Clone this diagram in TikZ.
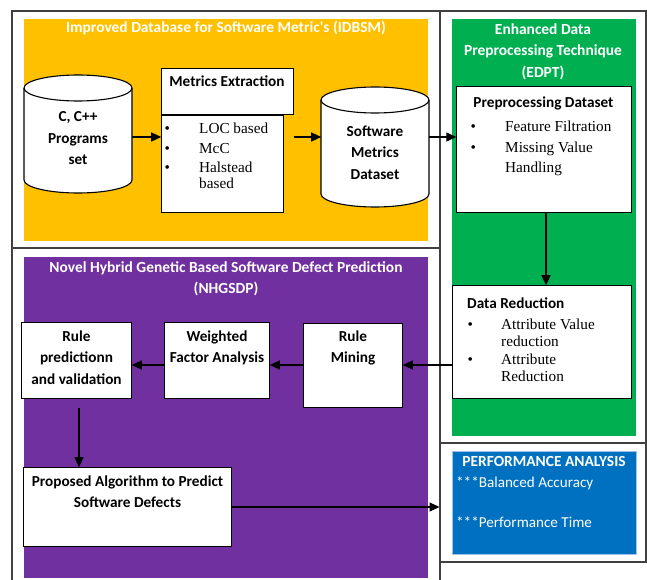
\documentclass[tikz,border=0pt]{standalone}
\usepackage{fontspec}
\setmainfont{Liberation Serif}
\newfontfamily\calfont{Carlito}
\usetikzlibrary{arrows.meta}

\definecolor{panelyellow}{HTML}{FFC000}
\definecolor{panelgreen}{HTML}{00B050}
\definecolor{panelpurple}{HTML}{7030A0}
\definecolor{panelblue}{HTML}{0070C0}
\definecolor{blueedge}{HTML}{9DC3E6}
\definecolor{framegray}{HTML}{404040}

% bullet item helpers for the lists inside the boxes
\newcommand\listdot[2]{\makebox[#1][l]{\textbullet}#2}
\newcommand\listcont[2]{\hspace*{#1}#2}

\begin{document}
\begin{tikzpicture}[x=1bp,y=1bp,
  frame/.style={draw=framegray, line width=1.5bp},
  box/.style={draw=black, fill=white, line width=1.1bp, inner sep=0, outer sep=0},
  ghost/.style={inner sep=0, outer sep=0},
  arr/.style={line width=1.1bp, -{Triangle[length=10bp,width=9bp]}},
  ttl/.style={font=\calfont\bfseries\fontsize{15.5}{21.5}\selectfont, text=white, inner sep=0, align=center},
  lbl/.style={font=\calfont\bfseries\fontsize{15.3}{21.5}\selectfont, inner sep=0, align=center},
  lst/.style={font=\fontsize{15.3}{16.5}\selectfont, inner sep=0, align=left, anchor=north west},
  perf/.style={font=\calfont\fontsize{15.2}{17}\selectfont, text=white, inner sep=0, anchor=base west},
]
\useasboundingbox (0,0) rectangle (647,-580);

% coloured panels
\fill[panelyellow] (24,-19) rectangle (428,-241);
\fill[panelgreen]  (452,-19) rectangle (636,-436);
\fill[panelpurple] (24,-257) rectangle (428,-578);
\filldraw[fill=panelblue, draw=blueedge, line width=0.8bp] (452,-451) rectangle (636,-554);

% frame lines
\draw[frame] (12,-580) -- (12,-11) -- (646,-11) -- (646,-562);
\draw[frame] (12,-248) -- (440,-248);
\draw[frame] (440,-11) -- (440,-580);
\draw[frame] (440,-443) -- (647,-443);
\draw[frame] (440,-562) -- (647,-562);

% panel titles
\node[ttl, anchor=base] (t1) at (226,-33) {Improved Database for Software Metric's (IDBSM)};
\node[ttl, anchor=north] (t2) at (543,-23.5) {Enhanced Data\\Preprocessing Technique\\(EDPT)};
\node[ttl, anchor=north] (t3) at (226,-261.5) {Novel Hybrid Genetic Based Software Defect Prediction\\(NHGSDP)};

% source programs cylinder
\node[ghost, minimum width=108, minimum height=118] (src) at (78,-134) {};
\filldraw[fill=white, draw=black, line width=1.1bp]
  (24,-88) -- (24,-180) arc[start angle=180, end angle=360, x radius=54, y radius=13]
  -- (132,-88) arc[start angle=0, end angle=180, x radius=54, y radius=13] -- cycle;
\draw[line width=1.1bp] (24,-88) arc[start angle=180, end angle=360, x radius=54, y radius=13];
\node[lbl, anchor=north] (srctext) at (78,-111.5) {C, C++\\Programs\\set};

% software metrics dataset cylinder
\node[ghost, minimum width=108, minimum height=120] (smd) at (375,-147) {};
\filldraw[fill=white, draw=black, line width=1.1bp]
  (321,-100) -- (321,-194) arc[start angle=180, end angle=360, x radius=54, y radius=13]
  -- (429,-100) arc[start angle=0, end angle=180, x radius=54, y radius=13] -- cycle;
\draw[line width=1.1bp] (321,-100) arc[start angle=180, end angle=360, x radius=54, y radius=13];
\node[lbl, anchor=north] (smdtext) at (375,-125.5) {Software\\Metrics\\Dataset};

% metrics extraction
\node[box, minimum width=123, minimum height=98] (mbody) at (222.5,-164) {};
\node[box, minimum width=133, minimum height=47] (mhead) at (227.5,-91.5) {};
\node[lbl, anchor=base] (mheadtext) at (227,-87) {Metrics Extraction};
\node[lst] (mlist) at (164.5,-122.8) {\listdot{34.5bp}{LOC based}\\[3bp]
  \listdot{34.5bp}{McC}\\[3bp]
  \listdot{34.5bp}{Halstead}\\
  \listcont{34.5bp}{based}};

% preprocessing dataset
\node[box, minimum width=176, minimum height=127] (pd) at (544,-149.5) {};
\node[lbl, anchor=base] (pdtext) at (543.5,-108) {Preprocessing Dataset};
\node[lst, font=\fontsize{15.3}{20}\selectfont] (pdlist) at (470.5,-120.8) {\listdot{34.5bp}{Feature Filtration}\\[1bp]
  \listdot{34.5bp}{Missing Value}\\
  \listcont{34.5bp}{Handling}};

% data reduction
\node[box, minimum width=180, minimum height=114] (dr) at (542,-342) {};
\node[lbl, anchor=base west] (drtext) at (467,-308) {Data Reduction};
\node[lst] (drlist) at (467.5,-318.8) {\listdot{33.5bp}{Attribute Value}\\
  \listcont{33.5bp}{reduction}\\[2.5bp]
  \listdot{33.5bp}{Attribute}\\
  \listcont{33.5bp}{Reduction}};

% hybrid genetic stages
\node[box, minimum width=100, minimum height=85] (rm) at (353,-365.5) {};
\node[lbl, anchor=north] (rmtext) at (353,-330.5) {Rule\\Mining};
\node[box, minimum width=106, minimum height=77] (wf) at (217,-360.5) {};
\node[lbl, anchor=north] (wftext) at (217,-330.5) {Weighted\\Factor Analysis};
\node[box, minimum width=111, minimum height=77] (rp) at (76.5,-360.5) {};
\node[lbl, anchor=north] (rptext) at (76.5,-330.5) {Rule\\predictionn\\and validation};
\node[box, minimum width=209, minimum height=80] (pa) at (127.5,-507) {};
\node[lbl, anchor=north] (patext) at (127.5,-475.5) {Proposed Algorithm to Predict\\Software Defects};

% performance analysis
\node[ttl, anchor=base] (perftitle) at (544,-466) {PERFORMANCE ANALYSIS};
\node[perf] (perf1) at (456,-487) {***Balanced Accuracy};
\node[perf] (perf2) at (456,-527) {***Performance Time};

% connectors
\coordinate (r1) at (0,-137);
\coordinate (r3) at (0,-365);
\coordinate (perfin) at (439.5,-507);
\draw[arr] (src.east |- r1) -- (mbody.west |- r1);
\draw[arr] (mhead.east |- r1) -- (smd.west |- r1);
\draw[arr] (smd.east |- r1) -- (pd.west |- r1);
\draw[arr] ([xshift=2bp]pd.south) -- ([xshift=2bp]pd.south |- dr.north);
\draw[arr] (dr.west |- r3) -- (rm.east |- r3);
\draw[arr] (rm.west |- r3) -- (wf.east |- r3);
\draw[arr] (wf.west |- r3) -- (rp.east |- r3);
\draw[arr] ([xshift=2.5bp,yshift=-9bp]rp.south) -- ([xshift=2.5bp]rp.south |- pa.north);
\draw[arr] (pa.east |- perfin) -- (perfin);
\end{tikzpicture}
\end{document}
